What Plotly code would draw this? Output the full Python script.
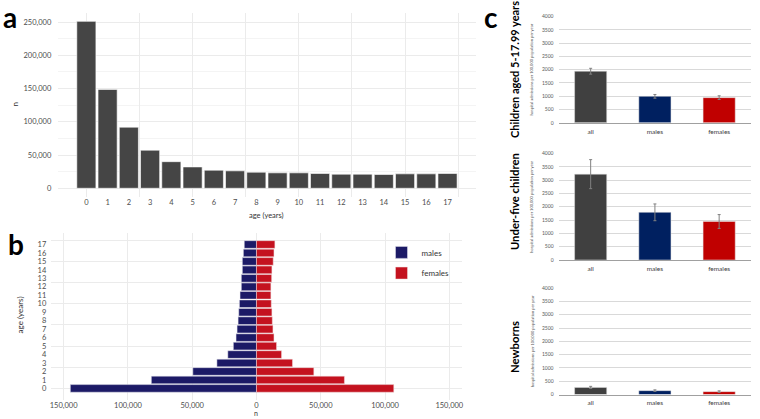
import plotly.graph_objects as go

# ---------------- data ----------------
ages = list(range(18))
age_labels = [str(a) for a in ages]
total_n = [251000, 148600, 91900, 57300, 40000, 32100, 27200, 26200, 24200,
           23200, 23200, 22200, 21200, 21200, 20700, 21700, 21700, 22200]
males_n = [144800, 81800, 49500, 30800, 22300, 18000, 15900, 15100, 14300,
           13800, 13300, 12800, 11800, 11800, 11000, 11000, 10200, 9500]
females_n = [106800, 68400, 44600, 28000, 19500, 15600, 13600, 12800, 12300,
             12000, 11500, 11200, 11200, 11800, 12000, 13000, 13600, 14300]
pyr_ticks = [-150000, -100000, -50000, 0, 50000, 100000, 150000]
pyr_ticktext = ["150,000", "100,000", "50,000", "0", "50,000", "100,000", "150,000"]

groups = ["all", "males", "females"]
children_5_17 = [1940, 995, 945]
children_5_17_err = [110, 70, 70]
under_five = [3225, 1790, 1445]
under_five_err = [545, 315, 260]
newborns = [270, 148, 111]
newborns_err = [40, 30, 30]
group_colors = ["#404040", "#002060", "#c00000"]

FONT = "Lato"
W, H = 760, 419


def px(x):
    return x / W


def py(y):
    return 1 - y / H


fig = go.Figure()

# ---------------- panel a ----------------
fig.add_trace(go.Scatter(x=[], y=[], xaxis="x", yaxis="y", showlegend=False, hoverinfo="skip"))
fig.add_trace(go.Bar(x=ages, y=total_n, xaxis="x2", yaxis="y", width=0.9,
                     marker=dict(color="#454545", line=dict(color="white", width=0.6)),
                     showlegend=False))

# ---------------- panel b ----------------
fig.add_trace(go.Scatter(x=[], y=[], xaxis="x3", yaxis="y3", showlegend=False, hoverinfo="skip"))
fig.add_trace(go.Bar(x=[-v for v in males_n], y=ages, orientation="h", xaxis="x3", yaxis="y4",
                     width=0.9, name="males", legend="legend",
                     marker=dict(color="#1c1a66", line=dict(color="#e8e8f0", width=0.5))))
fig.add_trace(go.Bar(x=females_n, y=ages, orientation="h", xaxis="x3", yaxis="y4",
                     width=0.9, name="females", legend="legend2",
                     marker=dict(color="#c4121f", line=dict(color="#f0e0e0", width=0.5))))

# ---------------- panel c ----------------
for k, (vals, errs) in enumerate([(children_5_17, children_5_17_err),
                                  (under_five, under_five_err),
                                  (newborns, newborns_err)]):
    n = 5 + k
    fig.add_trace(go.Bar(x=groups, y=vals, xaxis=f"x{n}", yaxis=f"y{n}", width=0.5,
                         marker=dict(color=group_colors, line=dict(color="#e0e0e0", width=0.5)),
                         error_y=dict(type="data", array=errs, color="#808080", thickness=1, width=1.5),
                         showlegend=False))

tickfont_ab = dict(family=FONT, size=7.5, color="#4d4d4d")
grid_ab = "#ebebeb"

layout = dict(
    width=W, height=H, margin=dict(l=0, r=0, t=0, b=0),
    paper_bgcolor="white", plot_bgcolor="white",
    barmode="relative", font=dict(family=FONT),
    # panel a
    xaxis=dict(domain=[px(57), px(477)], range=[-1.345, 18.345], anchor="y",
               tickmode="linear", tick0=0, dtick=2.5, showticklabels=False,
               showgrid=True, gridcolor=grid_ab, gridwidth=1, zeroline=False, ticks=""),
    xaxis2=dict(overlaying="x", anchor="y", range=[-1.345, 18.345],
                tickmode="array", tickvals=ages, ticktext=age_labels,
                showgrid=False, zeroline=False, tickfont=tickfont_ab, ticks=""),
    yaxis=dict(domain=[py(196.4), py(10.2)], range=[-12500, 263500], anchor="x",
               tickmode="linear", tick0=0, dtick=50000, tickformat=",d",
               showgrid=True, gridcolor=grid_ab, zeroline=False, tickfont=tickfont_ab,
               ticks="outside", ticklen=4, tickcolor="rgba(0,0,0,0)",
               minor=dict(dtick=25000, showgrid=True, gridcolor="#f4f4f4")),
    # panel b
    xaxis3=dict(domain=[px(50), px(463)], range=[-160000, 160000], anchor="y3",
                tickmode="array", tickvals=pyr_ticks, ticktext=pyr_ticktext,
                showgrid=True, gridcolor=grid_ab, zeroline=False, tickfont=tickfont_ab,
                ticks=""),
    yaxis3=dict(domain=[py(402.6), py(233.4)], range=[-1.35, 18.35], anchor="x3",
                tickmode="linear", tick0=0, dtick=2.5, showticklabels=False,
                showgrid=True, gridcolor=grid_ab, zeroline=False),
    yaxis4=dict(overlaying="y3", anchor="x3", range=[-1.35, 18.35],
                tickmode="array", tickvals=ages, ticktext=age_labels,
                showgrid=False, zeroline=False, tickfont=tickfont_ab,
                ticks="outside", ticklen=2, tickcolor="rgba(0,0,0,0)"),
    legend=dict(x=px(382), y=py(253), xanchor="left", yanchor="middle",
                bgcolor="rgba(0,0,0,0)", font=dict(family=FONT, size=8, color="#333333")),
    legend2=dict(x=px(382), y=py(274), xanchor="left", yanchor="middle",
                 bgcolor="rgba(0,0,0,0)", font=dict(family=FONT, size=8, color="#333333")),
)

c_ydom = [(13.7, 121.5), (152.7, 260.7), (289.2, 397.3)]
for k, (top, bot) in enumerate(c_ydom):
    n = 5 + k
    layout[f"xaxis{n}"] = dict(domain=[px(559.75), px(753.25)], anchor=f"y{n}",
                               range=[-0.5, 2.5], showgrid=False, zeroline=False,
                               showline=True, linecolor="#a0a0a0", linewidth=1,
                               tickfont=dict(family=FONT, size=6.5, color="#404040"),
                               ticks="outside", ticklen=2, tickcolor="rgba(0,0,0,0)")
    layout[f"yaxis{n}"] = dict(domain=[py(bot), py(top)], anchor=f"x{n}",
                               range=[0, 4000], tickmode="linear", tick0=0, dtick=500,
                               showgrid=True, gridcolor="#d9d9d9", gridwidth=0.8, zeroline=False,
                               tickfont=dict(family=FONT, size=5, color="#595959"),
                               ticks="outside", ticklen=3, tickcolor="rgba(0,0,0,0)")

fig.update_layout(**layout)

ann = []
def add_text(text, x, y, size, angle=0, bold=False, color="#333333", xanchor="center"):
    ann.append(dict(text=f"<b>{text}</b>" if bold else text, x=px(x), y=py(y),
                    xref="paper", yref="paper", showarrow=False, textangle=angle,
                    xanchor=xanchor, yanchor="middle",
                    font=dict(family=FONT, size=size, color=color)))

add_text("a", 0, 14, 28, bold=True, color="black", xanchor="left")
add_text("b", 5, 244, 28, bold=True, color="black", xanchor="left")
add_text("c", 483, 14, 28, bold=True, color="black", xanchor="left")
add_text("n", 14, 103, 8, angle=-90)
add_text("age (years)", 267, 216, 7.5)
add_text("age (years)", 20, 316, 8, angle=-90)
add_text("n", 256, 415.5, 7)
add_text("Children aged 5-17.99 years", 515, 67, 11, angle=-90, bold=True, color="black")
add_text("Under-five children", 515, 201, 11.3, angle=-90, bold=True, color="black")
add_text("Newborns", 515, 349, 11.3, angle=-90, bold=True, color="black")
for top, bot in c_ydom:
    add_text("hospital admissions per 100,000 population per year", 533, (top + bot) / 2, 4,
             angle=-90, color="#595959")
fig.update_layout(annotations=ann)

fig.write_html("out.html")
